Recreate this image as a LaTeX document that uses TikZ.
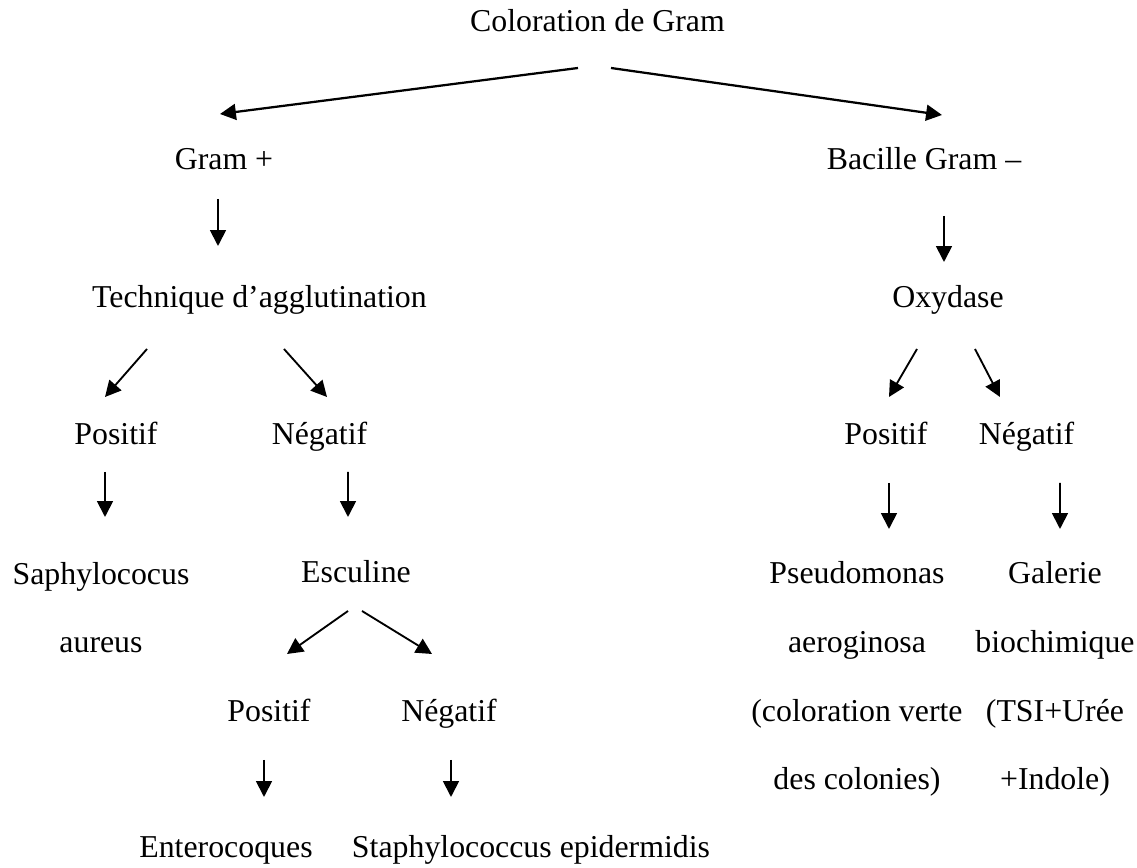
\documentclass[tikz,border=0pt]{standalone}
\usepackage{fontspec}
\setmainfont{Liberation Serif}
\usetikzlibrary{arrows.meta, calc}

\begin{document}
\begin{tikzpicture}[
    x=0.377pt, y=-0.377pt,
    font=\fontsize{12}{14}\selectfont,
    lbl/.style={inner sep=0pt, anchor=base},
    multi/.style={lbl, align=center, font=\fontsize{12}{26}\selectfont},
    arr/.style={-{Triangle[length=6pt, width=6pt]}, line width=0.7pt},
    toparr/.style={arr, line width=0.85pt}
]
\useasboundingbox (0,0) rectangle (1137,868);

% Root and the two Gram branches
\node[lbl] (gram) at (597.5, 32) {Coloration de Gram};
\node[lbl] (gramplus) at (224, 170) {Gram +};
\node[lbl] (grammoins) at (924, 170) {Bacille Gram –};

% Second level tests
\node[lbl] (agglu) at (259.5, 308) {Technique d’agglutination};
\node[lbl] (oxydase) at (948, 308) {Oxydase};

% Results of the agglutination and oxidase tests
\node[lbl] (agglupos) at (116, 445) {Positif};
\node[lbl] (agglueneg) at (319.5, 445) {Négatif};
\node[lbl] (oxypos) at (886, 445) {Positif};
\node[lbl] (oxyneg) at (1026.5, 445) {Négatif};

% Identifications and esculine test (multi-line nodes sit on their last line)
\node[multi] (saph) at (101, 653) {Saphylococus\\aureus};
\node[lbl] (esculine) at (356, 583) {Esculine};
\node[multi] (pseudo) at (857, 790)
    {Pseudomonas\\aeroginosa\\(coloration verte\\des colonies)};
\node[multi] (galerie) at (1055, 790)
    {Galerie\\biochimique\\(TSI+Urée\\+Indole)};

% Esculine results
\node[lbl] (escpos) at (269, 722) {Positif};
\node[lbl] (escneg) at (449, 722) {Négatif};
\node[lbl] (entero) at (226, 858) {Enterocoques};
\node[lbl] (staph) at (531, 858) {Staphylococcus epidermidis};

% Split below the Gram stain
\draw[toparr] ($(gram.base)+(-19.5,36)$) -- ($(gramplus.base)+(-4,-56)$);
\draw[toparr] ($(gram.base)+(13.5,36)$) -- ($(grammoins.base)+(18,-55)$);

% Each branch goes down to its test
\draw[arr] ($(gramplus.base)+(-6,29)$) -- ($(agglu.base)+(-41.5,-62)$);
\draw[arr] ($(grammoins.base)+(20,46)$) -- ($(oxydase.base)+(-4,-46)$);

% Test outcomes
\draw[arr] ($(agglu.base)+(-112.5,41)$) -- ($(agglupos.base)+(-11,-48)$);
\draw[arr] ($(agglu.base)+(24.5,41)$) -- ($(agglueneg.base)+(7.5,-48)$);
\draw[arr] ($(oxydase.base)+(-31,41)$) -- ($(oxypos.base)+(3,-48)$);
\draw[arr] ($(oxydase.base)+(27,41)$) -- ($(oxyneg.base)+(-26.5,-48)$);

\draw[arr] ($(agglupos.base)+(-11,27)$) -- ($(saph.base)+(4,-136)$);
\draw[arr] ($(agglueneg.base)+(28.5,27)$) -- ($(esculine.base)+(-8,-66)$);
\draw[arr] ($(oxypos.base)+(3,38)$) -- ($(pseudo.base)+(32,-261)$);
\draw[arr] ($(oxyneg.base)+(33.5,38)$) -- ($(galerie.base)+(5,-261)$);

% Esculine split and final species
\draw[arr] ($(esculine.base)+(-8,28)$) -- ($(escpos.base)+(18,-68)$);
\draw[arr] ($(esculine.base)+(6,28)$) -- ($(escneg.base)+(-17,-68)$);
\draw[arr] ($(escpos.base)+(-5,38)$) -- ($(entero.base)+(38,-61)$);
\draw[arr] ($(escneg.base)+(2,38)$) -- ($(staph.base)+(-80,-61)$);

\end{tikzpicture}
\end{document}
